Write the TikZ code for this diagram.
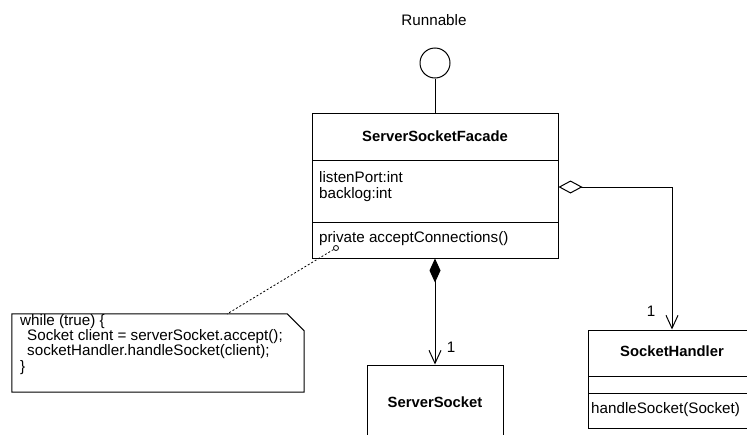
\documentclass[tikz,border=0pt]{standalone}
\usepackage{fontspec}
\setmainfont{Liberation Sans}
\usetikzlibrary{arrows.meta,calc}
\tikzset{
  umlbox/.style={draw, line width=1pt, inner sep=0pt},
  txt/.style={inner sep=0pt, font=\fontsize{15.2}{18}\selectfont},
  btxt/.style={inner sep=0pt, font=\fontsize{14.8}{18}\selectfont\bfseries},
  lnk/.style={line width=1pt},
}
\begin{document}
\begin{tikzpicture}[x=1pt,y=-1pt]
\useasboundingbox (0,0) rectangle (747,434);
\clip (0,0) rectangle (747,434);
\fill[white] (0,0) rectangle (747,434);

% interface
\node[txt] (runlbl) at (434,20) {Runnable};
\node[draw, circle, line width=1pt, minimum size=30pt, inner sep=0pt] (iface) at (435,63) {};

% main class
\node[umlbox, minimum width=246pt, minimum height=145pt] (facade) at (435,185.5) {};
\draw[lnk] (312,160) -- (558,160);
\draw[lnk] (312,222) -- (558,222);
\node[btxt] (fname) at (435,136) {ServerSocketFacade};
\node[txt, anchor=west] (a1) at (319,177) {listenPort:int};
\node[txt, anchor=west] (a2) at (319,195) {backlog:int};
\node[txt, anchor=west] (m1) at (319,239) {private acceptConnections()};
\draw[lnk] (iface) -- (facade.north);

% ServerSocket
\node[umlbox, minimum width=136pt, minimum height=80pt] (server) at (435,405) {};
\node[btxt] (sname) at (435,402) {ServerSocket};

% SocketHandler
\node[umlbox, minimum width=168pt, minimum height=98pt] (handler) at (672,379) {};
\draw[lnk] (588,376) -- (760,376);
\draw[lnk] (588,393) -- (760,393);
\node[btxt] (hname) at (672,351) {SocketHandler};
\node[txt, anchor=west] (hm) at (591,410) {handleSocket(Socket)};

% composition
\draw[lnk, {Diamond[length=24pt,width=11pt,fill=black]}-{Straight Barb[length=13pt,width=12pt,line width=1pt]}] (facade.south) -- (server.north);
\node[txt] (m1lbl) at (451,347) {1};

% aggregation
\draw[lnk, {Diamond[open,length=24pt,width=13pt,fill=white]}-{Straight Barb[length=13pt,width=12pt,line width=1pt]}] ([yshift=-1.5pt]facade.east) -| (handler.north);
\node[txt] (m2lbl) at (651,311) {1};

% note
\node[minimum width=292pt, minimum height=78pt, inner sep=0pt] (note) at (158,353) {};
\draw[line width=1pt] (note.north west) -- ([xshift=-17pt]note.north east) -- ([yshift=-17pt]note.north east) -- (note.south east) -- (note.south west) -- cycle;
\node[txt, anchor=west] (n1) at (20,322) {while (true) \{};
\node[txt, anchor=west] (n2) at (27,337) {Socket client = serverSocket.accept();};
\node[txt, anchor=west] (n3) at (27,352) {socketHandler.handleSocket(client);};
\node[txt, anchor=west] (n4) at (20,368) {\}};

\node[draw, circle, line width=0.8pt, minimum size=5pt, inner sep=0pt] (anc) at (336,248) {};
\coordinate (notetop) at (227,314);
\draw[line width=0.8pt, dash pattern=on 2pt off 2pt] (anc) -- (notetop);
\end{tikzpicture}
\end{document}
